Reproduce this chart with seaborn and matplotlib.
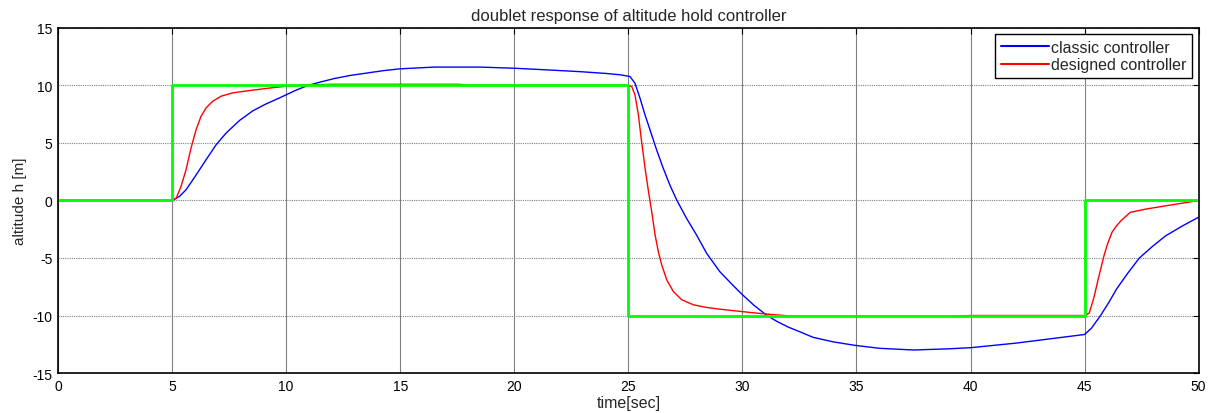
import matplotlib
matplotlib.use("Agg")
import matplotlib.pyplot as plt
import seaborn as sns

# ---- data ----
t_classic = [0, 5, 5.32, 5.61, 5.91, 6.2, 6.49, 6.93, 7.37, 7.95, 8.54, 9.12, 9.71, 10.44,
             10.95, 11.5, 12.1, 12.8, 13.6, 14.3, 15, 16.5, 18.5, 20, 21.5, 22.9, 24, 24.64,
             25.07, 25.29, 25.51, 25.73, 25.95, 26.24, 26.53, 26.82, 27.12, 27.55, 27.99,
             28.43, 29.01, 29.5, 29.95, 30.5, 31.05, 31.5, 32, 32.5, 33.1, 34, 34.95, 36,
             37.5, 39, 40, 41, 42, 43, 44, 45, 45.3, 45.7, 46.05, 46.4, 46.9, 47.4, 48,
             48.56, 49.3, 50]
h_classic = [0, 0, 0.35, 0.93, 1.8, 2.67, 3.55, 4.85, 5.87, 6.95, 7.8, 8.4, 8.92, 9.6,
             10.0, 10.3, 10.6, 10.87, 11.1, 11.3, 11.45, 11.6, 11.6, 11.5, 11.35, 11.2, 11.05,
             10.93, 10.78, 10.2, 8.9, 7.44, 6.14, 4.39, 2.8, 1.34, 0.04, -1.55, -3.0, -4.59,
             -6.19, -7.2, -8.1, -9.1, -9.96, -10.5, -11.0, -11.4, -11.9, -12.3, -12.6, -12.85,
             -13.0, -12.9, -12.8, -12.6, -12.4, -12.15, -11.9, -11.65, -11.1, -10.0, -8.9,
             -7.7, -6.3, -5.0, -3.95, -3.06, -2.2, -1.45]

t_designed = [0, 5, 5.18, 5.39, 5.61, 5.83, 6.05, 6.27, 6.49, 6.78, 7.15, 7.66, 8.39, 9.12,
              10, 10.5, 11, 12, 17.6, 18, 25, 25.15, 25.29, 25.44, 25.58, 25.73, 25.88,
              26.02, 26.17, 26.31, 26.46, 26.68, 26.97, 27.34, 27.85, 28.43, 29.01, 29.8,
              30.55, 31.5, 32.3, 39.5, 40, 45, 45.2, 45.4, 45.6, 45.85, 46.0, 46.2, 46.4,
              46.6, 47, 47.7, 48.6, 50]
h_designed = [0, 0, 0.2, 1.22, 2.67, 4.56, 6.16, 7.33, 8.05, 8.63, 9.07, 9.36, 9.56, 9.74,
              9.94, 10.0, 10.05, 10.1, 10.1, 10.0, 10.0, 9.9, 9.19, 7.44, 5.12, 2.85, 0.81,
              -0.93, -2.97, -4.42, -5.58, -6.89, -7.91, -8.63, -9.07, -9.3, -9.45, -9.62,
              -9.78, -9.95, -10.07, -10.07, -10.0, -10.0, -9.8, -8.5, -6.8, -4.8, -3.8,
              -2.77, -2.2, -1.75, -1.03, -0.74, -0.45, 0.0]

t_ref = [0, 5, 5, 25, 25, 45, 45, 50]
h_ref = [0, 0, 10, 10, -10, -10, 0, 0]

x_ticks = [0, 5, 10, 15, 20, 25, 30, 35, 40, 45, 50]
y_ticks = [-15, -10, -5, 0, 5, 10, 15]

sns.set_style("white")
plt.rcParams['font.family'] = ['Liberation Sans', 'DejaVu Sans']

fig = plt.figure(figsize=(12.12, 4.14), dpi=100)
ax = fig.add_axes([0.0479, 0.0966, 0.9411, 0.8334])

sns.lineplot(x=t_classic, y=h_classic, ax=ax, color='#0000FF', linewidth=1.0,
             estimator=None, sort=False, label='classic controller')
sns.lineplot(x=t_designed, y=h_designed, ax=ax, color='#FF0000', linewidth=1.0,
             estimator=None, sort=False, label='designed controller')
sns.lineplot(x=t_ref, y=h_ref, ax=ax, color='#00FF00', linewidth=2.0,
             estimator=None, sort=False)

ax.set_xlim(0, 50)
ax.set_ylim(-15, 15)
ax.set_xticks(x_ticks)
ax.set_yticks(y_ticks)
ax.set_xticklabels([str(v) for v in x_ticks])
ax.set_yticklabels([str(v) for v in y_ticks])

ax.xaxis.grid(True, color='#808080', linestyle='-', linewidth=0.8)
ax.yaxis.grid(True, color='#808080', linestyle=(0, (1, 1)), linewidth=0.8)
ax.set_axisbelow(True)

for s in ax.spines.values():
    s.set_color('black')
    s.set_linewidth(1.2)
    s.set_visible(True)

ax.tick_params(direction='in', top=True, right=True, length=4, width=0.8,
               labelsize=10, colors='black', pad=4)

ax.set_title('doublet response of altitude hold controller', fontsize=12, pad=6)
ax.set_xlabel('time[sec]', fontsize=11.5, labelpad=2)
ax.set_ylabel('altitude h [m]', fontsize=11, labelpad=4)

leg = ax.legend(loc='upper right', fontsize=11.5, frameon=True, fancybox=False,
                borderpad=0.35, handlelength=3.0, handletextpad=0.15,
                labelspacing=0.15, borderaxespad=0.4)
leg.get_frame().set_edgecolor('black')
leg.get_frame().set_linewidth(1.0)
leg.get_frame().set_alpha(1)
for line in leg.get_lines():
    line.set_linewidth(1.5)

fig.savefig('out.png', dpi=100)
